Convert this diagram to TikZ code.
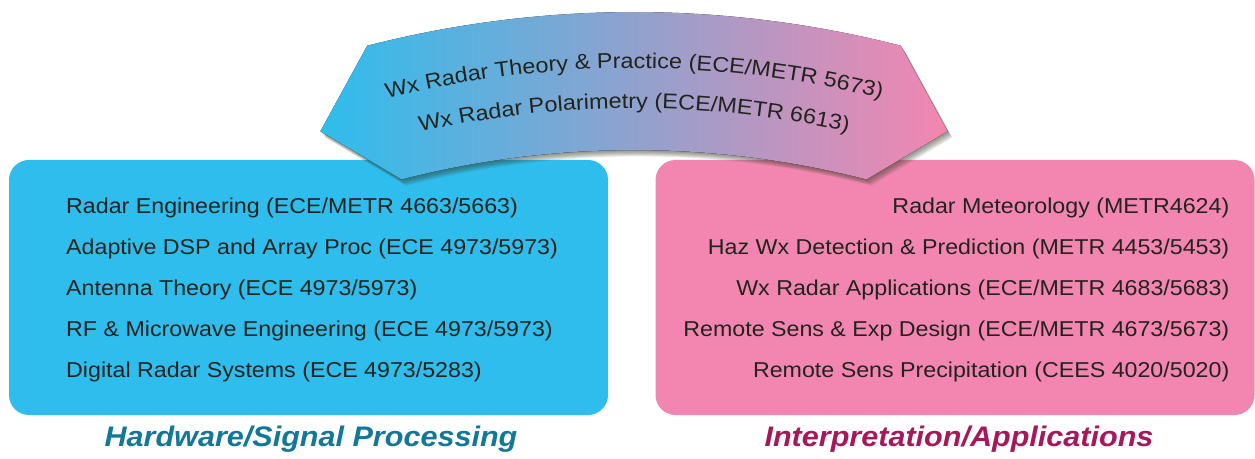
\documentclass[tikz,border=0pt]{standalone}
\usepackage{fontspec}
\usetikzlibrary{decorations.text}
\newfontfamily\bodyfont[FakeStretch=1.08]{Liberation Sans}
\newfontfamily\bannerfont[FakeStretch=1.1]{Liberation Sans}
\newfontfamily\labelfont[FakeStretch=1.08]{Liberation Sans}
\definecolor{cyanbox}{RGB}{46,189,236}
\definecolor{pinkbox}{RGB}{243,134,176}
\definecolor{txtcol}{RGB}{35,35,30}
\definecolor{hwcol}{RGB}{19,120,152}
\definecolor{iacol}{RGB}{165,24,90}
\definecolor{shadowcol}{RGB}{55,65,45}
\newcommand{\bannershape}{(104.4:1073) arc[start angle=104.4,end angle=75.6,radius=1073] -- (71.8:1004) -- (75.6:935) arc[start angle=75.6,end angle=104.4,radius=935] -- (108.2:1004) -- cycle}
\tikzset{
  panel/.style={rectangle, rounded corners=20pt, minimum width=599pt, minimum height=255pt, inner sep=0pt, draw=none},
  bodytext/.style={inner sep=0pt, text=txtcol, font=\bodyfont\fontsize{21.5}{25}\selectfont},
  lefttext/.style={bodytext, anchor=base west},
  righttext/.style={bodytext, anchor=base east},
  lab/.style={inner sep=0pt, anchor=base, font=\labelfont\bfseries\itshape\fontsize{28.3}{32}\selectfont},
  bannerfill/.style={left color=cyanbox, right color=pinkbox, draw=none},
  bannertext/.style={decorate, decoration={text along path, text align=center, text color=txtcol, text={|\bannerfont\fontsize{21.3}{25}\selectfont|#1}}}
}
\begin{document}
\begin{tikzpicture}[x=1pt,y=1pt]
\fill[white] (0,0) rectangle (1255,458);
\useasboundingbox (0,0) rectangle (1255,458);
% panels
\node[panel, fill=cyanbox] (hw) at (308.5,170.5) {};
\node[panel, fill=pinkbox] (ia) at (955,170.5) {};
% banner shadow and banner
\foreach \s in {1,...,8}{
  \begin{scope}[shift={(634+0.6*\s,-627-0.8*\s)}]
    \fill[shadowcol, opacity=0.09] \bannershape;
  \end{scope}
}
\begin{scope}[shift={(634,-627)}]
  \fill[bannerfill] \bannershape;
  \path[bannertext={Wx Radar Theory {\&} Practice (ECE/METR 5673)}] (112:1016.7) arc[start angle=112,end angle=68,radius=1016.7];
  \path[bannertext={Wx Radar Polarimetry (ECE/METR 6613)}] (112:976.7) arc[start angle=112,end angle=68,radius=976.7];
\end{scope}
% left texts
\node[lefttext] (l1) at (66,244.7) {Radar Engineering (ECE/METR 4663/5663)};
\node[lefttext] (l2) at (66,203.7) {Adaptive DSP and Array Proc (ECE 4973/5973)};
\node[lefttext] (l3) at (66,162.7) {Antenna Theory (ECE 4973/5973)};
\node[lefttext] (l4) at (66,121.7) {RF \& Microwave Engineering (ECE 4973/5973)};
\node[lefttext] (l5) at (66,80.7) {Digital Radar Systems (ECE 4973/5283)};
% right texts
\node[righttext] (r1) at (1229.5,244.7) {Radar Meteorology (METR4624)};
\node[righttext] (r2) at (1229.5,203.7) {Haz Wx Detection \& Prediction (METR 4453/5453)};
\node[righttext] (r3) at (1229.5,162.7) {Wx Radar Applications (ECE/METR 4683/5683)};
\node[righttext] (r4) at (1229.5,121.7) {Remote Sens \& Exp Design (ECE/METR 4673/5673)};
\node[righttext] (r5) at (1229.5,80.7) {Remote Sens Precipitation (CEES 4020/5020)};
% labels
\node[lab, text=hwcol] (hwlab) at (311,11.3) {Hardware/Signal Processing};
\node[lab, text=iacol] (ialab) at (959,11.3) {Interpretation/Applications};
\end{tikzpicture}
\end{document}
